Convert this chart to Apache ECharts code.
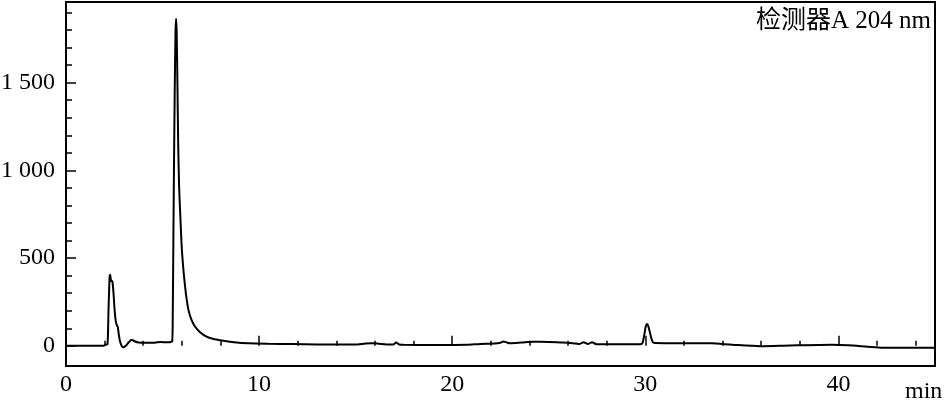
<!DOCTYPE html>
<html>
<head>
<meta charset="utf-8">
<script src="https://cdn.jsdelivr.net/npm/echarts@6/dist/echarts.min.js"></script>
<style>html,body{margin:0;padding:0;background:#fff}#c{width:945px;height:410px}</style>
</head>
<body>
<div id="c"></div>
<script>
// Retention time (min)
const times = [0,1.0,1.95,2.05,2.15,2.2,2.26,2.29,2.33,2.40,2.46,2.52,2.58,2.64,2.68,2.74,2.80,2.88,2.97,3.10,3.25,3.40,3.55,3.75,4.2,4.6,4.9,5.2,5.39,5.50,5.53,5.56,5.59,5.63,5.67,5.70,5.73,5.77,5.81,5.86,5.92,5.99,6.06,6.13,6.23,6.34,6.50,6.68,6.9,7.2,7.6,8.07,8.7,9.45,10.5,11.69,13.0,14.5,15.1,15.5,15.84,16.2,16.6,16.95,17.1,17.25,17.5,19.0,20.76,21.45,22.2,22.5,22.66,22.85,23.0,23.6,24.2,25.0,25.75,26.4,26.6,26.8,26.95,27.05,27.24,27.4,27.5,28.5,29.74,29.85,29.95,30.02,30.09,30.16,30.25,30.35,30.43,31.1,33.4,34.5,35.96,37.5,39.7,40.5,41.5,42.3,44.9,45];
// Detector signal
const signal = [0,0,1,6,10,200,395,405,370,368,300,200,139,115,108,60,25,0,-8,0,20,34,26,19,17,18,22,20,21,25,200,600,1000,1450,1780,1864,1790,1500,1150,900,740,566,460,376,280,205,148,110,82,57,40,30,21,15,12,10,8,7,8,13,15,12,8,8,19,8,6,5,6,11,13,18,25,18,15,19,23,22,19,13,11,21,13,11,21,12,9,9,9,15,65,110,125,110,70,30,17,15,14,6,-2,2,6,3,-5,-11,-11,-10];
const xMajorTicks = [0,10,20,30,40];
const xMinorTicks = [2,4,6,8,12,14,16,18,22,24,26,28,32,34,36,38,42,44];
const yMajorTicks = [0,500,1000,1500];
const yMinorTicks = [100,200,300,400,600,700,800,900,1100,1200,1300,1400,1600,1700,1800,1900];
const detectorLabel = '检测器A 204 nm';
const xUnit = 'min';

const FONT = "'Liberation Serif', 'Noto Sans CJK SC', serif";
const chart = echarts.init(document.getElementById('c'), null, {renderer:'canvas'});
const fmtY = v => v >= 1000 ? String(v).replace(/(\d)(\d{3})$/, '$1 $2') : String(v);
const X_MIN = 0, X_MAX = 45, Y_MIN = -115, Y_MAX = 1960;
chart.setOption({
  animation: false,
  backgroundColor: '#fff',
  grid: {left: 66, right: 10, top: 2, bottom: 44, containLabel: false, outerBoundsMode: 'none', show: true, borderColor: '#000', borderWidth: 2, backgroundColor: 'transparent'},
  xAxis: [
    {type: 'value', min: X_MIN, max: X_MAX, axisLine: {show: false}, splitLine: {show: false},
     axisTick: {show: true, inside: true, length: 10, lineStyle: {color: '#000', width: 1.5}, customValues: xMajorTicks},
     axisLabel: {show: true, customValues: xMajorTicks, color: '#000', fontFamily: FONT, fontSize: 24, margin: 7}},
    {type: 'value', min: X_MIN, max: X_MAX, position: 'bottom', axisLine: {show: false}, splitLine: {show: false},
     axisTick: {show: true, inside: true, length: 5, lineStyle: {color: '#000', width: 1.5}, customValues: xMinorTicks},
     axisLabel: {show: false}}
  ],
  yAxis: [
    {type: 'value', min: Y_MIN, max: Y_MAX, axisLine: {show: false}, splitLine: {show: false},
     axisTick: {show: true, inside: true, length: 10, lineStyle: {color: '#000', width: 1.5}, customValues: yMajorTicks},
     axisLabel: {show: true, customValues: yMajorTicks, formatter: fmtY, color: '#000', fontFamily: FONT, fontSize: 24, margin: 11}},
    {type: 'value', min: Y_MIN, max: Y_MAX, position: 'left', axisLine: {show: false}, splitLine: {show: false},
     axisTick: {show: true, inside: true, length: 6, lineStyle: {color: '#000', width: 1.5}, customValues: yMinorTicks},
     axisLabel: {show: false}}
  ],
  graphic: [
    {type: 'text', right: 14, top: 9, style: {text: detectorLabel, font: "25px " + FONT, fill: '#000'}},
    {type: 'text', left: 905, top: 380, style: {text: xUnit, font: "24px " + FONT, fill: '#000'}}
  ],
  series: [{
    type: 'line', xAxisIndex: 0, yAxisIndex: 0, showSymbol: false, smooth: 0.25,
    lineStyle: {color: '#000', width: 2},
    data: times.map((t, i) => [t, signal[i]])
  }]
});
</script>
</body>
</html>
